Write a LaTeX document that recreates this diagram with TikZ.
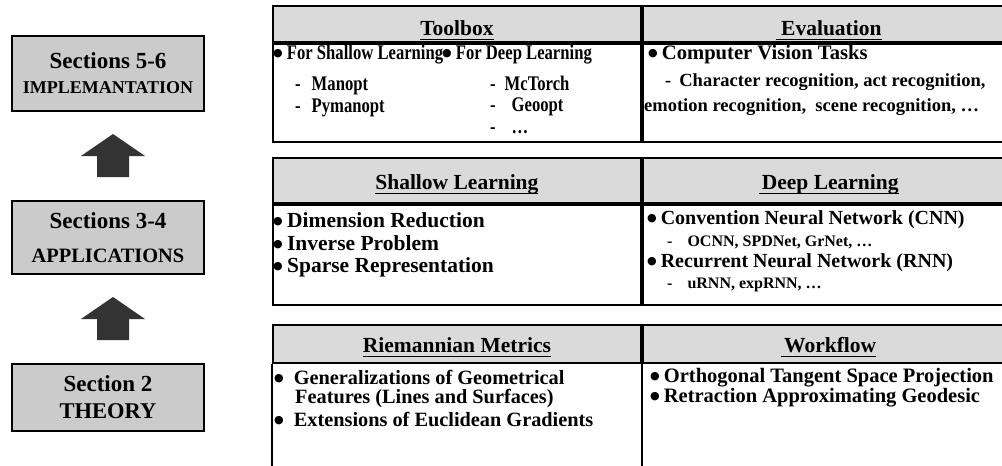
\documentclass[tikz,border=0pt]{standalone}
\usepackage{fontspec}
\setmainfont{Liberation Serif}
\newfontfamily\narrowfont[FakeStretch=0.8]{Liberation Serif}
\newfontfamily\symfont{DejaVu Sans}
\usetikzlibrary{calc,positioning}

\definecolor{secgray}{RGB}{203,203,203}
\definecolor{headgray}{RGB}{218,218,218}
\definecolor{arrowgray}{RGB}{51,51,51}
\newcommand{\fs}[1]{\fontsize{#1}{24}\selectfont}
\newcommand{\hdul}[1]{\sbox0{#1}\rlap{\rule[-4pt]{\wd0}{1.2pt}}\usebox0}
\newcommand{\bul}{\raisebox{3pt}{\symfont\fontsize{11}{11}\selectfont ●}\hspace{0.2em}}

\tikzset{secbox/.style={draw,line width=1.8pt,fill=secgray,minimum width=192pt,align=center,inner sep=0pt},
         headcell/.style={draw,line width=1.8pt,fill=headgray,anchor=north west,inner sep=0pt,font=\bfseries\fontsize{21.5}{24}\selectfont},
         bodycell/.style={draw,line width=1.8pt,anchor=north west,inner sep=0pt},
         tabline/.style={line width=1.8pt},
         itemtext/.style={anchor=west,inner sep=0pt,font=\bfseries\fontsize{21.5}{24}\selectfont},
         smalltext/.style={itemtext,font=\narrowfont\bfseries\fontsize{20.8}{24}\selectfont},
         blockarrow/.style={fill=arrowgray}}

\begin{document}
\begin{tikzpicture}[x=1pt,y=-1pt]
    \useasboundingbox (0,0) rectangle (1002,466);
    \coordinate (floor) at (0,466);

    \node[secbox,minimum height=75pt,font=\bfseries\fontsize{23}{25}\selectfont] (impl) at (108,73.5) {Sections 5-6\\\fontsize{18}{25}\selectfont IMPLEMANTATION};
    \node[secbox,minimum height=73pt,font=\bfseries\fontsize{23}{34}\selectfont] (app) at (108,237.5) {Sections 3-4\\\fontsize{20.4}{34}\selectfont APPLICATIONS};
    \node[secbox,minimum height=67pt,font=\bfseries\fontsize{23}{27}\selectfont] (theo) at (108,397.5) {Section 2\\\fontsize{22.5}{27}\selectfont THEORY};

    \foreach \lo/\hi in {app/impl,theo/app}{
        \coordinate (up) at ($(\hi.south)!0.5!(\lo.north)+(5,0)$);
        \fill[blockarrow] ($(up)+(0,-22)$) -- ++(32,22) -- ++(-16,0) -- ++(0,21) -- ++(-32,0) -- ++(0,-21) -- ++(-16,0) -- cycle;
    }

    \node[headcell,minimum width=368pt,minimum height=36pt,text height=30pt,text depth=6pt] (toolhd) at (272,5) {\hdul{Toolbox}};
    \node[headcell,minimum width=372pt,minimum height=36pt,text height=30pt,text depth=6pt] (evalhd) at (toolhd.north east) {\hdul{\ Evaluation}};
    \node[bodycell,minimum width=368pt,minimum height=98pt] (toolbd) at (toolhd.south west) {};
    \node[bodycell,minimum width=372pt,minimum height=98pt] (evalbd) at (evalhd.south west) {};

    \node[smalltext] (fsl) at (273,55) {\bul For Shallow Learning};
    \node[smalltext] (fdl) at (442,55) {\bul For Deep Learning};
    \node[smalltext] (manopt) at (295,86) {-\hspace{11pt}Manopt};
    \node[smalltext] (pymanopt) at (295,108) {-\hspace{11pt}Pymanopt};
    \node[smalltext] (mctorch) at (490,83) {-\hspace{9pt}McTorch};
    \node[smalltext] (geoopt) at (490,107) {-\hspace{16pt}Geoopt};
    \node[smalltext] (tbmore) at (490,131) {-\hspace{16pt}…};

    \node[itemtext,font=\bfseries\fs{20.6}] (cvt) at (648,55) {\bul Computer Vision Tasks};
    \node[itemtext,font=\bfseries\fs{18.5}] (charrec) at (665,82) {-\hspace{8pt}Character recognition, act recognition,};
    \node[itemtext,font=\bfseries\fs{18.5}] (emorec) at (644,107) {emotion recognition,\ \ scene recognition, …};

    \node[headcell,minimum width=368pt,minimum height=45pt,text height=32pt,text depth=13pt] (shalhd) at (272,157) {\hdul{Shallow Learning}};
    \node[headcell,minimum width=372pt,minimum height=45pt,text height=32pt,text depth=13pt] (deephd) at (shalhd.north east) {\hdul{\kern3pt Deep Learning}};
    \node[bodycell,minimum width=368pt,minimum height=100pt] (shalbd) at (shalhd.south west) {};
    \node[bodycell,minimum width=372pt,minimum height=100pt] (deepbd) at (deephd.south west) {};

    \node[itemtext] (dimred) at (273,220) {\bul Dimension Reduction};
    \node[itemtext] (invprob) at (273,243) {\bul Inverse Problem};
    \node[itemtext] (sparse) at (273,267) {\bul Sparse Representation};

    \node[itemtext,font=\bfseries\fs{20}] (cnn) at (647,220) {\bul Convention Neural Network (CNN)};
    \node[itemtext,font=\bfseries\fs{16}] (ocnn) at (667,242) {-\hspace{15pt}OCNN, SPDNet, GrNet, …};
    \node[itemtext,font=\bfseries\fs{20}] (rnn) at (647,263) {\bul Recurrent Neural Network (RNN)};
    \node[itemtext,font=\bfseries\fs{16}] (urnn) at (667,285) {-\hspace{15pt}uRNN, expRNN, …};

    \node[headcell,minimum width=368pt,minimum height=38pt,text height=28pt,text depth=10pt] (rmhd) at (272,324) {\hdul{Riemannian Metrics}};
    \node[headcell,minimum width=372pt,minimum height=38pt,text height=28pt,text depth=10pt] (wfhd) at (rmhd.north east) {\hdul{\kern3pt Workflow}};
    \draw[tabline] (rmhd.south west) -- (rmhd.south west |- floor);
    \draw[tabline] (rmhd.south east) -- (rmhd.south east |- floor);

    \node[itemtext,align=left,font=\bfseries\fontsize{20.3}{19.5}\selectfont] (genfeat) at (274,389) {\bul\hspace{6pt}Generalizations of Geometrical\\\hspace*{21pt}Features (Lines and Surfaces)};
    \node[itemtext,font=\bfseries\fs{20.3}] (eucgrad) at (274,419) {\bul\hspace{6pt}Extensions of Euclidean Gradients};

    \node[itemtext,align=left,font=\bfseries\fontsize{20.5}{20}\selectfont] (wfitems) at (650,388) {\bul Orthogonal Tangent Space Projection\\\bul Retraction Approximating Geodesic};
\end{tikzpicture}
\end{document}
